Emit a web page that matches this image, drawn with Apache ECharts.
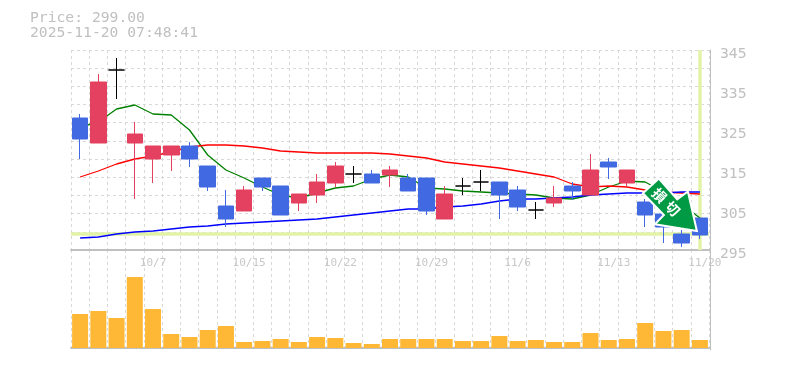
<!DOCTYPE html>
<html><head><meta charset="utf-8">
<style>html,body{margin:0;padding:0;background:#fff}#c{width:785px;height:370px}</style>
<script src="https://cdn.jsdelivr.net/npm/echarts@6/dist/echarts.min.js"></script>
</head><body><div id="c"></div>
<script>
const categories=['10/1','10/2','10/3','10/6','10/7','10/8','10/9','10/10','10/14','10/15','10/16','10/17','10/20','10/21','10/22','10/23','10/24','10/27','10/28','10/29','10/30','10/31','11/4','11/5','11/6','11/7','11/10','11/11','11/12','11/13','11/14','11/17','11/18','11/19','11/20'];
const tickLabels=['10/7','10/15','10/22','10/29','11/6','11/13','11/20'];
// open, close, low, high
const candles=[
[328,322.75,317.75,329],[321.75,337,321.75,339],[340,340,332.75,343],[321.75,324,307.75,327],[317.75,321,311.75,321],
[318.75,321,314.75,321],[321,317.75,315.75,322],[316,310.75,309.75,316],[306,302.75,300.75,310],[304.75,310,304.75,311],
[313,310.75,309.75,313],[311,303.75,303.75,311],[306.75,309,304.75,309],[308.75,312,306.75,314],[311.75,316,310.75,317],
[314,314,311.75,316],[314,311.75,311.75,315],[313.75,315,310.75,316],[313,309.75,309.75,314],[313,304.75,303.75,313],
[302.75,309,302.75,311],[311,311,308.75,313],[312,312,309.75,315],[312,308.75,302.75,312],[310,305.75,304.75,311],
[305,305,302.75,307],[306.75,308,305.75,311],[311,309.75,307.5,312],[308.75,315,308.75,319],[317,315.75,312.75,318],
[311.75,315,310.75,315],[307,303.75,300.75,307.75],[304,300.75,296.75,304],[299,296.75,295.75,300],[303,298.75,297.75,303]];
const maShort=[325.75,327,330.25,331.25,329,328.75,325,318.75,315,313,310.75,308.75,308,309.25,310.5,311,312.75,313.75,313.25,310.5,310.25,309.75,309.5,309.25,309,308.75,308,307.75,308.75,310.75,312.25,312,309.5,306.5,303];
const maMid=[313.25,314.75,316.5,317.75,318.5,319.5,320.75,321.25,321.25,321,320.5,319.75,319.5,319.25,319.25,319.25,319.25,319,318.5,318,317,316.5,316,315.5,314.75,314,313.25,311.5,310.75,311,310.75,310,309.5,309.25,309];
const maLong=[298,298.25,299,299.5,299.75,300.25,300.75,301,301.5,301.75,302,302.25,302.5,302.75,303.25,303.75,304.25,304.75,305.25,305.25,305.75,306,306.5,307.25,307.75,307.75,308,308.25,308.75,309,309.25,309.25,309.25,309.5,309.5];
const volumes=[34,37,30,71,39,14,11,18,22,6,7,9,6,11,10,5,4,9,9,9,9,7,7,12,7,8,6,6,15,8,9,25,17,18,8];
const lastPrice=299;
const headerLines=['Price: 299.00','2025-11-20 07:48:41'];
const signalChars=['損','切'];

const GRAY='#c0c0c0',DASH={color:'#d8d8d8',width:1,type:[3,3]},MONO='"DejaVu Sans Mono"',BAND='#e2f3a8';
const chart=echarts.init(document.getElementById('c'),null,{renderer:'canvas'});
const line=(name,data,color)=>({name,type:'line',data,xAxisIndex:0,yAxisIndex:0,symbol:'none',smooth:false,z:2,silent:true,lineStyle:{color,width:1.3}});
chart.setOption({
 animation:false,
 title:{text:headerLines.join('\n'),left:25,top:6,textStyle:{fontFamily:MONO,fontWeight:'normal',fontSize:14.7,lineHeight:15,color:GRAY}},
 grid:[{left:71,width:638,top:50,height:200},{left:71,width:638,top:250,height:100}],
 xAxis:[
  {type:'category',gridIndex:0,data:categories,boundaryGap:true,
   axisLine:{lineStyle:{color:GRAY,width:2}},axisTick:{show:false},
   splitLine:{show:true,interval:0,lineStyle:DASH},
   axisLabel:{margin:8,interval:(i,v)=>tickLabels.includes(v),hideOverlap:false,
     formatter:v=>(v.length>4?'{w|':'{n|')+v+'}',
     rich:{n:{fontFamily:MONO,fontSize:11,color:'#c8c8c8'},w:{fontFamily:MONO,fontSize:11,color:'#c8c8c8',padding:[0,0,0,10]}}}},
  {type:'category',gridIndex:1,data:categories,boundaryGap:true,
   axisLine:{lineStyle:{color:GRAY,width:2}},axisTick:{show:false},axisLabel:{show:false},
   splitLine:{show:true,interval:0,lineStyle:DASH}}
 ],
 yAxis:[
  {type:'value',gridIndex:0,position:'right',offset:1,min:295,max:345,interval:10,scale:true,
   axisLine:{show:true,lineStyle:{color:GRAY,width:1}},axisTick:{show:false},splitLine:{show:false},
   axisLabel:{margin:10,showMinLabel:true,showMaxLabel:true,hideOverlap:false,formatter:v=>'{p|'+v+'}',
     rich:{p:{fontFamily:MONO,fontSize:14.7,color:GRAY,padding:[8,0,0,0]}}}},
  {type:'value',gridIndex:0,position:'left',min:0,max:11,interval:1,
   axisLine:{show:false},axisTick:{show:false},axisLabel:{show:false},splitLine:{show:true,lineStyle:DASH}},
  {type:'value',gridIndex:1,position:'right',offset:1,min:-2,max:98,
   axisLine:{show:true,lineStyle:{color:GRAY,width:1}},axisTick:{show:false},axisLabel:{show:false},splitLine:{show:false}}
 ],
 series:[
  {name:'last',type:'line',xAxisIndex:0,yAxisIndex:0,data:[],z:1,silent:true,
   markLine:{silent:true,symbol:'none',animation:false,label:{show:false},z:1,
    lineStyle:{color:BAND,width:3.5,type:'solid'},
    data:[{yAxis:lastPrice},{xAxis:categories[categories.length-1]}]}},
  line('short',maShort,'#008000'),line('mid',maMid,'#ff0000'),line('long',maLong,'#0000ff'),
  {name:'price',type:'candlestick',xAxisIndex:0,yAxisIndex:0,data:candles,barWidth:16,z:3,silent:true,
   itemStyle:{color:'#e4405f',color0:'#4169e1',borderColor:'#e4405f',borderColor0:'#4169e1',borderColorDoji:'#000000',borderWidth:1}},
  {name:'volume',type:'bar',xAxisIndex:1,yAxisIndex:2,data:volumes,barWidth:16,silent:true,itemStyle:{color:'#ffb835'}}
 ]
});
const a=chart.convertToPixel({xAxisIndex:0,yAxisIndex:0},[categories[categories.length-1],lastPrice]);
const arrow=[[-3,-3],[-12,-42.5],[-22.7,-34.7],[-41,-55.5],[-57,-40.7],[-36,-19],[-45,-9.7]].map(p=>[a[0]+p[0],a[1]+p[1]]);
chart.setOption({graphic:[
 {type:'polygon',z:100,silent:true,shape:{points:arrow},style:{fill:'#009944',stroke:'#ffffff',lineWidth:2,lineJoin:'miter'}},
 ...signalChars.map((c,i)=>({type:'text',z:101,silent:true,x:a[0]-40.5+i*13.3,y:a[1]-38.5+i*13.3,rotation:-Math.PI/4,
   style:{text:c,fill:'#fff',font:'bold 14px "Noto Sans CJK JP"',align:'center',verticalAlign:'middle'}}))
]});
</script></body></html>
